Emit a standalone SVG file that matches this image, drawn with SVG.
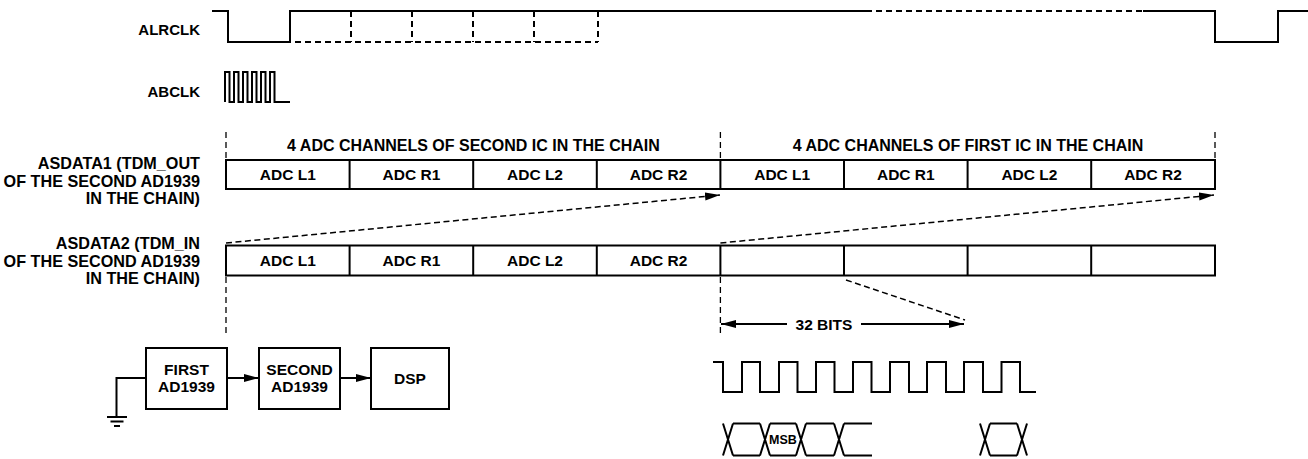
<svg xmlns="http://www.w3.org/2000/svg" width="1308" height="459" viewBox="0 0 1308 459">
<style>
text{font-family:"Liberation Sans",Arial,Helvetica,sans-serif;font-weight:bold;fill:#000}
.lbl{font-size:15.5px}
.hdr{font-size:16px;text-anchor:middle}
.cell{font-size:15.5px;text-anchor:middle}
.side{font-size:16.2px;text-anchor:end}
.sig{font-size:15px;text-anchor:end}
.wave{fill:none;stroke:#000;stroke-width:2}
.dashw{fill:none;stroke:#000;stroke-width:2;stroke-dasharray:6 4}
.box{fill:#fff;stroke:#000;stroke-width:2}
.guide{fill:none;stroke:#000;stroke-width:1.3;stroke-dasharray:6 4}
.darr{fill:none;stroke:#000;stroke-width:1.5;stroke-dasharray:6 3.5}
.arr{fill:none;stroke:#000;stroke-width:2}
</style>
<defs>
<marker id="ah" markerUnits="userSpaceOnUse" markerWidth="16" markerHeight="9" refX="15" refY="4" orient="auto" viewBox="0 0 16 9">
<path d="M0,0 L15,4 L0,8 z" fill="#000"/>
</marker>
</defs>

<g id="labels">
<text class="sig" x="200" y="35">ALRCLK</text>
<text class="sig" x="200" y="97">ABCLK</text>
<text class="side" x="200" y="169">ASDATA1 (TDM_OUT</text>
<text class="side" x="200" y="187">OF THE SECOND AD1939</text>
<text class="side" x="200" y="204">IN THE CHAIN)</text>
<text class="side" x="200" y="249">ASDATA2 (TDM_IN</text>
<text class="side" x="200" y="267">OF THE SECOND AD1939</text>
<text class="side" x="200" y="284">IN THE CHAIN)</text>
<text class="hdr" x="473.5" y="151">4 ADC CHANNELS OF SECOND IC IN THE CHAIN</text>
<text class="hdr" x="968" y="151">4 ADC CHANNELS OF FIRST IC IN THE CHAIN</text>
</g>

<g id="alrclk">
<path class="wave" d="M212,11 H228 V42 H290 V11 H866"/>
<path class="dashw" d="M866,11 H1143"/>
<path class="wave" d="M1143,11 H1215 V42 H1278 V11 H1308"/>
<path class="dashw" d="M275,42 H598"/>
<path class="dashw" d="M351,11 V42 M412,11 V42 M473,11 V42 M534,11 V42 M598,11 V42"/>
</g>

<g id="abclk">
<path class="wave" d="M225,102 V72 H229.5 V102 H234 V72 H238.5 V102 H243 V72 H247.5 V102 H252 V72 H256.5 V102 H261 V72 H265.5 V102 H270 V72 H274.5 V102 H290"/>
</g>

<g id="asdata1">
<rect class="box" x="226" y="160" width="989" height="29"/>
<path class="wave" d="M349.6,160 V189 M473.2,160 V189 M596.8,160 V189 M720.4,160 V189 M844,160 V189 M967.6,160 V189 M1091.2,160 V189"/>
<text class="cell" x="287.8" y="180">ADC L1</text>
<text class="cell" x="411.4" y="180">ADC R1</text>
<text class="cell" x="535" y="180">ADC L2</text>
<text class="cell" x="658.6" y="180">ADC R2</text>
<text class="cell" x="782.2" y="180">ADC L1</text>
<text class="cell" x="905.8" y="180">ADC R1</text>
<text class="cell" x="1029.4" y="180">ADC L2</text>
<text class="cell" x="1153" y="180">ADC R2</text>
</g>

<g id="asdata2">
<rect class="box" x="226" y="245.5" width="989" height="30"/>
<path class="wave" d="M349.6,245.5 V275.5 M473.2,245.5 V275.5 M596.8,245.5 V275.5 M720.4,245.5 V275.5 M844,245.5 V275.5 M967.6,245.5 V275.5 M1091.2,245.5 V275.5"/>
<text class="cell" x="287.8" y="266">ADC L1</text>
<text class="cell" x="411.4" y="266">ADC R1</text>
<text class="cell" x="535" y="266">ADC L2</text>
<text class="cell" x="658.6" y="266">ADC R2</text>
</g>

<g id="connectors">
<path class="guide" d="M226,132 V159 M720.4,132 V159 M1215,132 V159"/>
<path class="guide" d="M226,277 V337 M720.4,277 V337"/>
<path class="darr" d="M226,243 L720,195" marker-end="url(#ah)"/>
<path class="darr" d="M720.4,243 L1214,195" marker-end="url(#ah)"/>
<path class="darr" d="M846,280 L965,320"/>
<path class="arr" d="M787,324 H721" marker-end="url(#ah)"/>
<path class="arr" d="M861,324 H964" marker-end="url(#ah)"/>
<path class="arr" d="M227,378 H259" marker-end="url(#ah)"/>
<path class="arr" d="M340,378 H371" marker-end="url(#ah)"/>
<path class="wave" d="M146,378 H116.5 V417 M107,417 H127 M110.5,421.5 H123.5 M114,426 H120"/>
</g>
<text id="bits-label" class="lbl" x="824" y="329.5" text-anchor="middle">32 BITS</text>

<g id="first">
<rect class="box" x="146" y="348" width="81" height="61"/>
<text class="cell" x="186.5" y="375">FIRST</text>
<text class="cell" x="186.5" y="391.5">AD1939</text>
</g>
<g id="second">
<rect class="box" x="259" y="348" width="81" height="61"/>
<text class="cell" x="299.5" y="375">SECOND</text>
<text class="cell" x="299.5" y="391.5">AD1939</text>
</g>
<g id="dsp">
<rect class="box" x="371" y="348" width="78" height="61"/>
<text class="cell" x="410" y="383.5">DSP</text>
</g>

<g id="bitclock">
<path class="wave" d="M713,362 H723 V392 H742 V362 H760 V392 H779 V362 H797.5 V392 H816 V362 H834.5 V392 H853 V362 H871.5 V392 H890 V362 H909 V392 H927 V362 H946 V392 H964 V362 H983 V392 H1001.5 V362 H1020 V392 H1036"/>
</g>

<g id="data">
<path class="wave" d="M723,423.5 L733,455.5 M733,423.5 L723,455.5 M733,423.5 H760 M733,455.5 H760 M760,423.5 L770,455.5 M770,423.5 L760,455.5 M770,423.5 H796 M770,455.5 H796 M796,423.5 L806,455.5 M806,423.5 L796,455.5 M806,423.5 H834 M806,455.5 H834 M834,423.5 L844,455.5 M844,423.5 L834,455.5 M844,423.5 H872 M844,455.5 H872"/>
<path class="wave" d="M980,423.5 L990,455.5 M990,423.5 L980,455.5 M990,423.5 H1017 M990,455.5 H1017 M1017,423.5 L1027,455.5 M1027,423.5 L1017,455.5"/>
<text x="783" y="444" font-size="12.5" text-anchor="middle">MSB</text>
</g>
</svg>
